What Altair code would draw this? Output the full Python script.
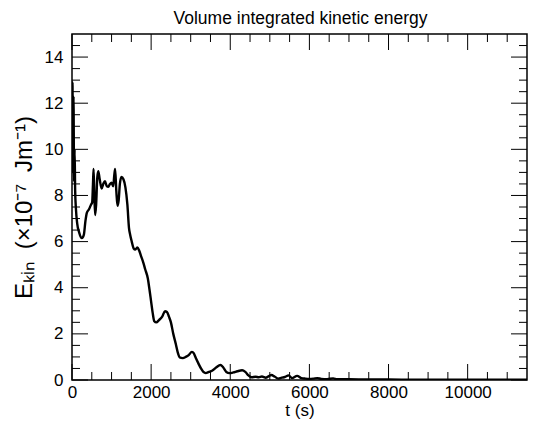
import altair as alt
import pandas as pd

# Curve (t in s, E_kin in 1e-7 J/m)
t_vals = [0, 12, 25, 38, 52, 66, 80, 100, 130, 180, 250, 300, 340, 375, 430, 480, 510,
          530, 545, 565, 585, 610, 640, 665, 700, 750, 790, 833, 880, 917, 960, 1000,
          1040, 1070, 1090, 1120, 1150, 1180, 1210, 1250, 1300, 1350, 1400, 1440, 1470,
          1510, 1560, 1600, 1650, 1700, 1750, 1800, 1850, 1917, 1960, 2000, 2040, 2080,
          2130, 2200, 2280, 2350, 2400, 2450, 2500, 2560, 2625, 2680, 2720, 2800, 2875,
          2950, 3030, 3080, 3130, 3200, 3260, 3320, 3380, 3460, 3540, 3650, 3750, 3820,
          3900, 3980, 4080, 4180, 4300, 4380, 4460, 4540, 4640, 4720, 4800, 4900, 5040,
          5120, 5210, 5300, 5380, 5475, 5560, 5690, 5800, 5900, 6000, 6100, 6200, 6300,
          6450, 6600, 6700, 7000, 7500, 8000, 8500, 9000, 10000, 11500]
e_vals = [10.5, 12.9, 9.0, 12.3, 8.6, 10.0, 8.2, 7.4, 6.8, 6.4, 6.15, 6.3, 6.9, 7.25,
          7.4, 7.6, 7.7, 8.5, 9.15, 8.0, 7.15, 7.6, 8.8, 9.05, 8.7, 8.3, 8.5, 8.62, 8.4,
          8.38, 8.5, 8.55, 8.4, 8.9, 9.15, 8.2, 7.55, 7.8, 8.5, 8.8, 8.7, 8.35, 7.6, 6.6,
          6.3, 6.0, 5.7, 5.65, 5.75, 5.6, 5.35, 5.1, 4.8, 4.4, 3.9, 3.4, 2.9, 2.55, 2.5,
          2.6, 2.75, 2.98, 2.95, 2.75, 2.5, 2.0, 1.55, 1.15, 0.98, 0.95, 1.0, 1.08, 1.22,
          1.15, 0.95, 0.7, 0.5, 0.35, 0.3, 0.35, 0.4, 0.55, 0.65, 0.55, 0.35, 0.3, 0.33,
          0.38, 0.42, 0.35, 0.2, 0.12, 0.14, 0.12, 0.15, 0.1, 0.22, 0.15, 0.06, 0.1, 0.13,
          0.2, 0.08, 0.18, 0.08, 0.06, 0.05, 0.06, 0.08, 0.05, 0.04, 0.07, 0.03, 0.03,
          0.02, 0.02, 0.015, 0.01, 0.01, 0.01]

x_major = [0, 2000, 4000, 6000, 8000, 10000]
x_minor = [500, 1000, 1500, 2500, 3000, 3500, 4500, 5000, 5500, 6500, 7000, 7500,
           8500, 9000, 9500, 10500, 11000]
y_major = [0, 2, 4, 6, 8, 10, 12, 14]
y_minor = [0.5, 1, 1.5, 2.5, 3, 3.5, 4.5, 5, 5.5, 6.5, 7, 7.5, 8.5, 9, 9.5, 10.5, 11,
           11.5, 12.5, 13, 13.5, 14.5]

W, H = 455, 346
MAJ, MIN = 16, 8

curve = pd.DataFrame({"t": t_vals, "e": e_vals})
xs = alt.Scale(domain=[0, 11500], nice=False, zero=False)
ys = alt.Scale(domain=[0, 15], nice=False, zero=False)

xaxis = alt.Axis(values=x_major, title="t (s)", labelPadding=4, titlePadding=2,
                 format="d", labelFlush=False)
yaxis = alt.Axis(values=y_major, title="Eₖᵢₙ\u2002(×10⁻⁷\u2002Jm⁻¹)", labelPadding=9,
                 titlePadding=8, format="d", titleFontSize=24)

line = alt.Chart(curve).mark_line(color="black", strokeWidth=2.4,
                                  interpolate="monotone", clip=True).encode(
    x=alt.X("t:Q", scale=xs, axis=xaxis),
    y=alt.Y("e:Q", scale=ys, axis=yaxis),
)

def xticks(vals, L):
    df = pd.DataFrame({"v": vals})
    b = alt.Chart(df).mark_rule(color="black", strokeWidth=1).encode(
        x=alt.X("v:Q", scale=xs), y=alt.value(H), y2=alt.value(H - L))
    t = alt.Chart(df).mark_rule(color="black", strokeWidth=1).encode(
        x=alt.X("v:Q", scale=xs), y=alt.value(0), y2=alt.value(L))
    return [b, t]

def yticks(vals, L):
    df = pd.DataFrame({"v": vals})
    l = alt.Chart(df).mark_rule(color="black", strokeWidth=1).encode(
        y=alt.Y("v:Q", scale=ys), x=alt.value(0), x2=alt.value(L))
    r = alt.Chart(df).mark_rule(color="black", strokeWidth=1).encode(
        y=alt.Y("v:Q", scale=ys), x=alt.value(W), x2=alt.value(W - L))
    return [l, r]

layers = xticks(x_major, MAJ) + xticks(x_minor, MIN) + yticks(y_major, MAJ) + yticks(y_minor, MIN) + [line]

chart = alt.layer(*layers).properties(
    width=W, height=H,
    title=alt.TitleParams("Volume integrated kinetic energy", fontSize=17.5,
                          font="Liberation Sans", fontWeight="normal", color="black",
                          anchor="middle", frame="group", offset=6, dx=1),
    autosize=alt.AutoSizeParams(type="none"),
    padding={"left": 64, "top": 26, "right": 1, "bottom": 42},
).configure_view(stroke="black", strokeWidth=1.5).configure_axis(
    domain=False, ticks=False, grid=False,
    labelFont="Liberation Sans", labelFontSize=17, labelColor="black",
    titleFont="Liberation Sans", titleFontSize=17, titleColor="black",
    titleFontWeight="normal",
)

chart.save("out.html", embed_options={"renderer": "svg", "actions": False})
